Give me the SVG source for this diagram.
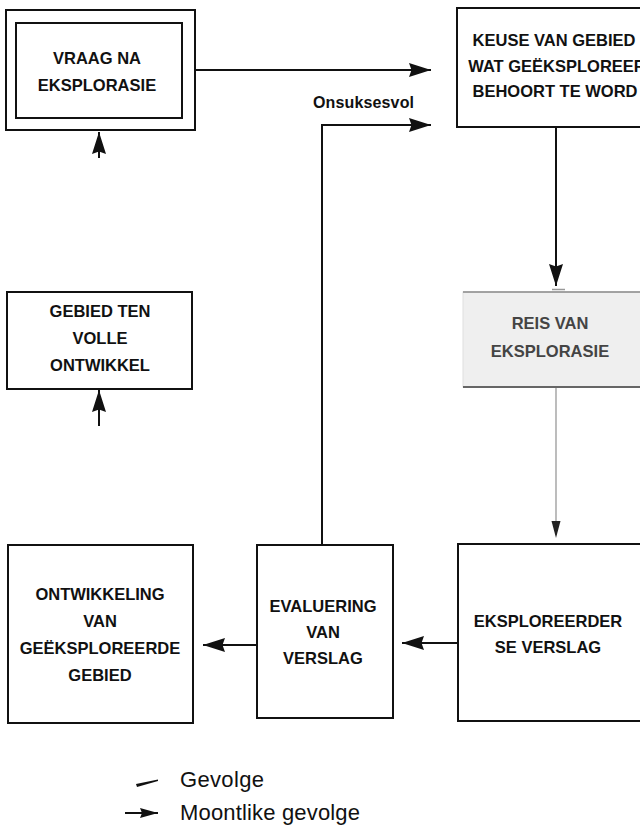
<svg xmlns="http://www.w3.org/2000/svg" width="640" height="835" viewBox="0 0 640 835">
<defs>
<style>
.box{fill:#ffffff;stroke:#111;stroke-width:2}
.t{font-family:"Liberation Sans",Arial,Helvetica,sans-serif;font-weight:bold;font-size:16.5px;fill:#111;text-anchor:middle}
.conn{fill:none;stroke:#111;stroke-width:2}
.leg{font-family:"Liberation Sans",Arial,Helvetica,sans-serif;font-size:22px;fill:#111}
</style>
<marker id="ah" viewBox="0 0 22 14" refX="22" refY="7" markerWidth="22" markerHeight="14" markerUnits="userSpaceOnUse" orient="auto">
<path d="M0,0 L22,7 L0,14 L2.5,7 z" fill="#111"/>
</marker>
<marker id="ahs" viewBox="0 0 18 10" refX="18" refY="5" markerWidth="18" markerHeight="10" markerUnits="userSpaceOnUse" orient="auto">
<path d="M0,0 L18,5 L0,10 L2,5 z" fill="#111"/>
</marker>
</defs>
<rect width="640" height="835" fill="#ffffff"/>

<g id="connectors">
<line class="conn" x1="195" y1="70" x2="431" y2="70" marker-end="url(#ah)"/>
<polyline class="conn" points="322,545 322,125 431,125" marker-end="url(#ah)"/>
<line class="conn" x1="556" y1="127" x2="556" y2="286" marker-end="url(#ah)"/>
<line x1="556" y1="388" x2="556" y2="524" stroke="#999" stroke-width="1.3"/>
<path d="M551.5,521 L560.5,521 L556,538 z" fill="#222"/>
<line class="conn" x1="458" y1="643" x2="402" y2="643" marker-end="url(#ah)"/>
<line class="conn" x1="257" y1="645" x2="203" y2="645" marker-end="url(#ah)"/>
<line class="conn" x1="99" y1="158" x2="99" y2="132" marker-end="url(#ah)"/>
<line class="conn" x1="99" y1="426" x2="99" y2="390" marker-end="url(#ah)"/>
<text x="313" y="108" font-family="'Liberation Sans',Arial,Helvetica,sans-serif" font-weight="bold" font-size="16" fill="#111" textLength="101">Onsuksesvol</text>
</g>

<g id="vraag">
<rect class="box" x="6" y="10" width="189" height="120"/>
<rect class="box" x="16" y="23" width="166" height="95"/>
<text class="t" x="97" y="64">VRAAG NA</text>
<text class="t" x="97" y="91">EKSPLORASIE</text>
</g>

<g id="keuse">
<rect class="box" x="457" y="8" width="200" height="119"/>
<text class="t" x="554" y="46">KEUSE VAN GEBIED</text>
<text class="t" x="557" y="72">WAT GEËKSPLOREER</text>
<text class="t" x="555" y="97">BEHOORT TE WORD</text>
</g>

<g id="reis">
<rect x="463" y="292" width="190" height="95" fill="#efefef" stroke="#e0e0e0" stroke-width="1"/>
<line x1="463" y1="292" x2="640" y2="292" stroke="#8a8a8a" stroke-width="1.5"/>
<line x1="463" y1="387" x2="640" y2="387" stroke="#666" stroke-width="2"/>
<line x1="552" y1="289.5" x2="565" y2="289.5" stroke="#999" stroke-width="1.5"/>
<text class="t" x="550" y="329" style="fill:#444">REIS VAN</text>
<text class="t" x="550" y="357" style="fill:#444">EKSPLORASIE</text>
</g>

<g id="gebied">
<rect class="box" x="7" y="292" width="185" height="97"/>
<text class="t" x="100" y="317">GEBIED TEN</text>
<text class="t" x="100" y="344">VOLLE</text>
<text class="t" x="100" y="371">ONTWIKKEL</text>
</g>

<g id="ontwikkeling">
<rect class="box" x="8" y="545" width="185" height="178"/>
<text class="t" x="100" y="600">ONTWIKKELING</text>
<text class="t" x="100" y="627">VAN</text>
<text class="t" x="100" y="654">GEËKSPLOREERDE</text>
<text class="t" x="100" y="681">GEBIED</text>
</g>

<g id="evaluering">
<rect class="box" x="257" y="545" width="136" height="173"/>
<text class="t" x="323" y="612">EVALUERING</text>
<text class="t" x="323" y="638">VAN</text>
<text class="t" x="323" y="664">VERSLAG</text>
</g>

<g id="verslag">
<rect class="box" x="458" y="544" width="200" height="177"/>
<text class="t" x="548" y="627">EKSPLOREERDER</text>
<text class="t" x="548" y="653">SE VERSLAG</text>
</g>

<g id="legend">
<path d="M136,784 L158,779.5 L158,781 L137,787 z" fill="#111"/>
<text class="leg" x="180" y="787" textLength="84">Gevolge</text>
<line x1="125" y1="813" x2="158" y2="813" stroke="#111" stroke-width="2" marker-end="url(#ahs)"/>
<text class="leg" x="180" y="820" textLength="180">Moontlike gevolge</text>
</g>
</svg>
